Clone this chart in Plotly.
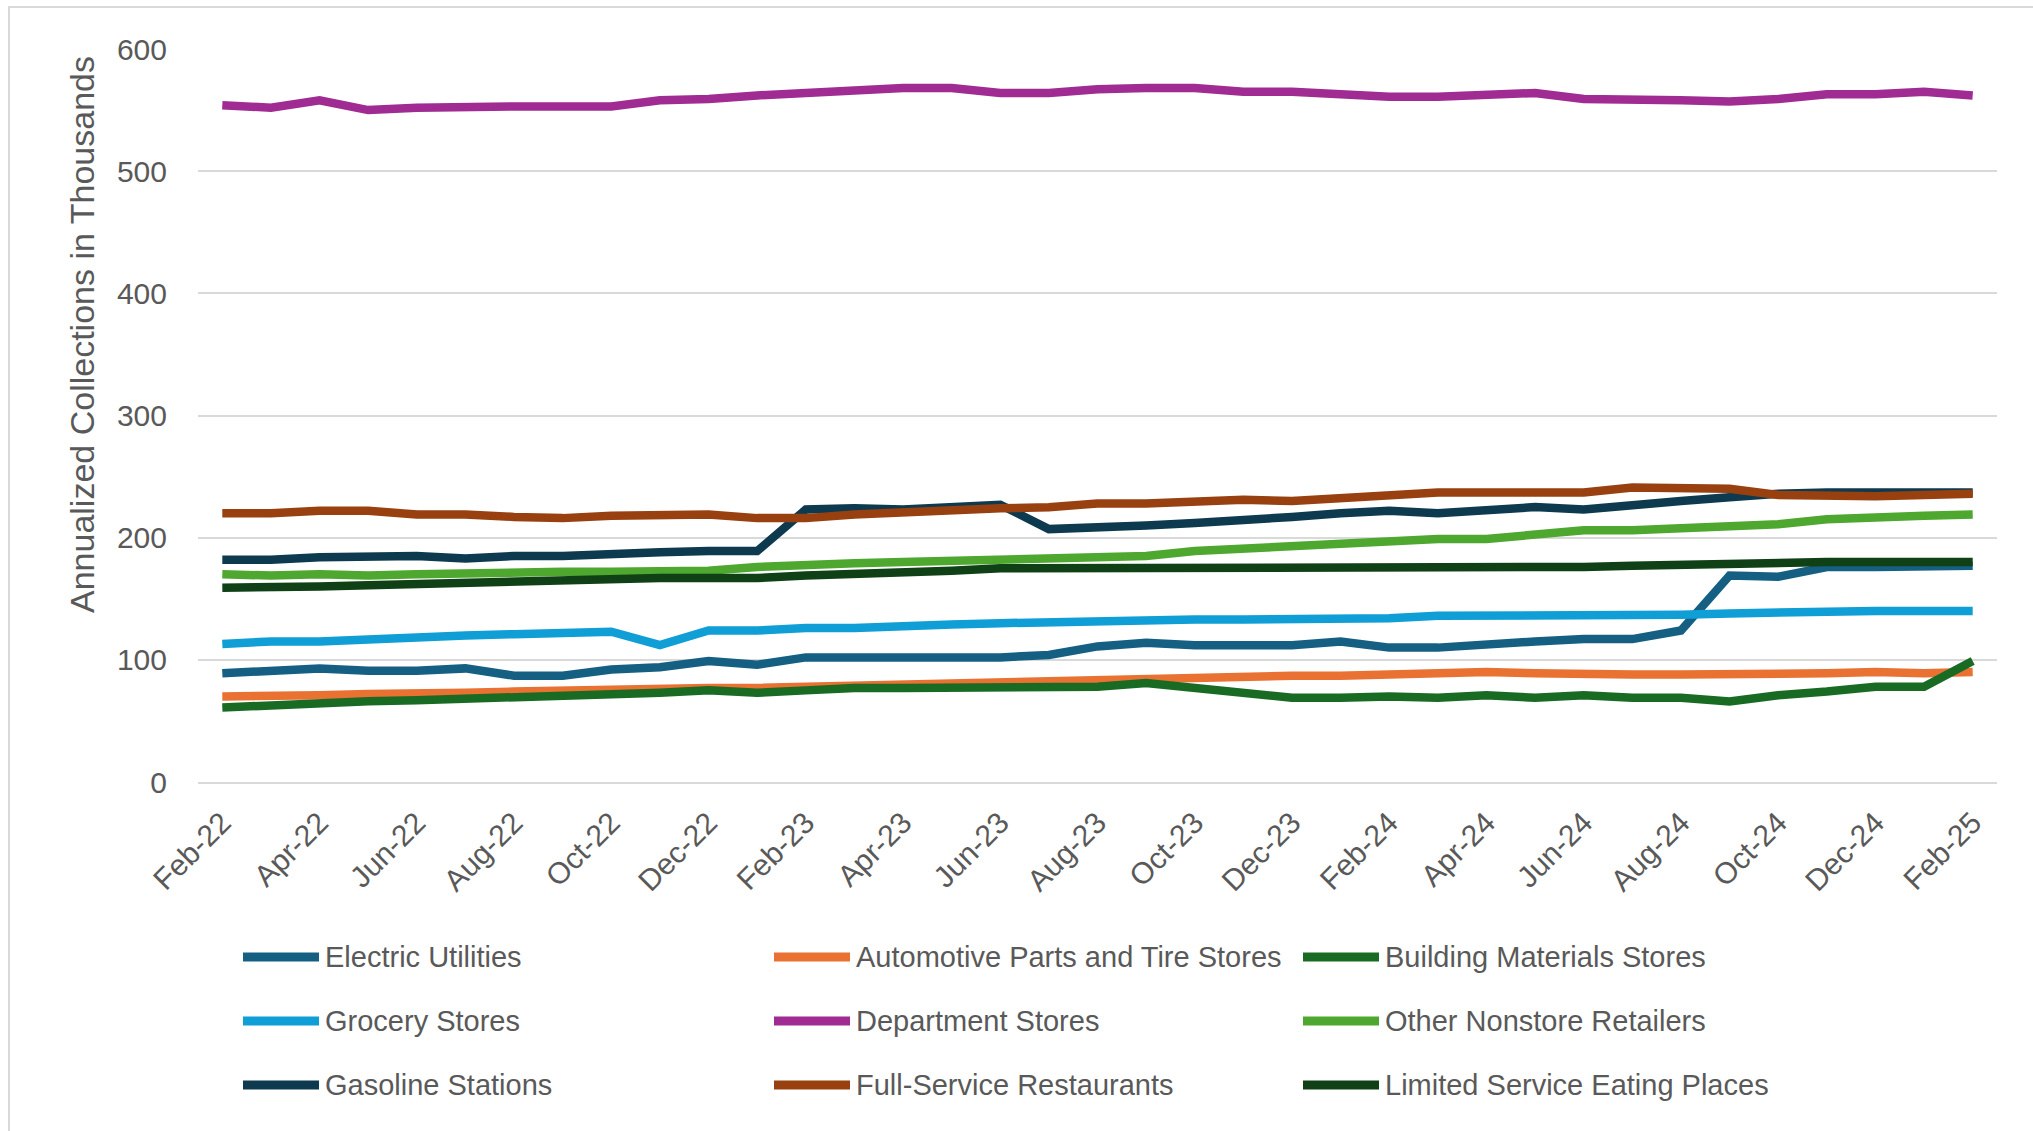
import plotly.graph_objects as go

# Monthly categories (Feb-22 .. Feb-25)
months = [
    "Feb-22", "Mar-22", "Apr-22", "May-22", "Jun-22", "Jul-22", "Aug-22", "Sep-22",
    "Oct-22", "Nov-22", "Dec-22", "Jan-23", "Feb-23", "Mar-23", "Apr-23", "May-23",
    "Jun-23", "Jul-23", "Aug-23", "Sep-23", "Oct-23", "Nov-23", "Dec-23", "Jan-24",
    "Feb-24", "Mar-24", "Apr-24", "May-24", "Jun-24", "Jul-24", "Aug-24", "Sep-24",
    "Oct-24", "Nov-24", "Dec-24", "Jan-25", "Feb-25",
]

series_names = [
    "Electric Utilities", "Automotive Parts and Tire Stores", "Building Materials Stores",
    "Grocery Stores", "Department Stores", "Other Nonstore Retailers",
    "Gasoline Stations", "Full-Service Restaurants", "Limited Service Eating Places",
]

# Annualized collections, thousands
electric_utilities = [89, 91, 93, 91, 91, 93, 87, 87, 92, 94, 99, 96, 102, 102, 102, 102, 102, 104,
                      111, 114, 112, 112, 112, 115, 110, 110, 113, 115, 117, 117, 124, 169, 168, 176,
                      176, 177, 177]
automotive_parts = [70, 70, 71, 72, 72, 73, 74, 75, 76, 77, 77, 77, 78, 79, 80, 81, 82, 83,
                    84, 85, 85, 86, 87, 87, 88, 89, 90, 89, 88, 88, 88, 88, 89, 89,
                    90, 89, 90]
building_materials = [61, 63, 65, 66, 67, 68, 70, 70, 72, 73, 75, 73, 75, 77, 77, 77, 77, 78,
                      78, 81, 77, 73, 69, 69, 70, 69, 71, 69, 71, 69, 69, 66, 71, 74,
                      78, 78, 99]
grocery_stores = [113, 115, 115, 117, 118, 120, 121, 122, 123, 112, 124, 124, 126, 126, 128, 129, 130, 131,
                  132, 132, 133, 133, 133, 134, 134, 136, 136, 136, 137, 137, 137, 138, 139, 140,
                  140, 140, 140]
department_stores = [554, 552, 558, 550, 552, 553, 553, 553, 553, 558, 559, 562, 564, 566, 568, 568, 564, 564,
                     567, 568, 568, 565, 565, 563, 561, 561, 562, 564, 559, 559, 558, 557, 559, 563,
                     563, 565, 562]
other_nonstore = [170, 169, 170, 169, 170, 171, 171, 172, 172, 173, 173, 176, 178, 179, 180, 181, 182, 182,
                  183, 185, 189, 191, 193, 195, 197, 199, 199, 202, 206, 206, 208, 209, 211, 215,
                  217, 218, 219]
gasoline_stations = [182, 182, 184, 185, 185, 183, 185, 185, 187, 188, 189, 189, 223, 224, 223, 225, 227, 207,
                     208, 210, 212, 214, 217, 220, 222, 220, 223, 225, 223, 227, 230, 233, 236, 237,
                     237, 237, 237]
full_service_restaurants = [220, 220, 222, 222, 219, 219, 217, 216, 218, 218, 219, 216, 216, 219, 221, 222, 224, 225,
                            228, 228, 230, 231, 230, 232, 234, 237, 237, 237, 237, 241, 241, 240, 235, 234,
                            234, 235, 236]
limited_service_eating = [159, 159, 160, 161, 162, 163, 165, 166, 167, 167, 167, 167, 169, 170, 171, 173, 175, 175,
                          176, 176, 176, 176, 176, 176, 176, 176, 176, 176, 176, 177, 178, 179, 179, 180,
                          180, 180, 180]

series_values = [
    electric_utilities, automotive_parts, building_materials,
    grocery_stores, department_stores, other_nonstore,
    gasoline_stations, full_service_restaurants, limited_service_eating,
]

series_colors = [
    "#156082", "#E97132", "#196B24",
    "#0F9ED5", "#A02B93", "#4EA72E",
    "#0D3A4E", "#994011", "#0F4016",
]

y_ticks = [0, 100, 200, 300, 400, 500, 600]

# Page geometry (pixels)
W, H = 2033, 1131
PLOT_L, PLOT_R, PLOT_T, PLOT_B = 198, 1997, 49, 782
GRAY_TEXT = "#595959"
GRID = "#D9D9D9"
FONT = "Liberation Sans"


def px_x(px):
    return (px - PLOT_L) / (PLOT_R - PLOT_L)


def px_y(py):
    return (PLOT_B - py) / (PLOT_B - PLOT_T)


x_idx = list(range(len(months)))

fig = go.Figure()
for name, vals, color in zip(series_names, series_values, series_colors):
    fig.add_trace(go.Scatter(
        x=x_idx, y=vals, name=name, mode="lines",
        line=dict(color=color, width=8.5),
        showlegend=False,
        customdata=months,
        hovertemplate="%{customdata}: %{y}<extra>" + name + "</extra>",
    ))

# Labels on every second month, tick marks on the category boundaries
label_pos = x_idx[::2]
label_txt = months[::2]
boundary_ticks = [i - 0.5 for i in x_idx[::2]]

shapes = []
annotations = []

# Outer chart frame
shapes.append(dict(type="rect", xref="paper", yref="paper",
                   x0=px_x(9), x1=px_x(2120), y0=px_y(1200), y1=px_y(7),
                   line=dict(color=GRID, width=2), fillcolor="rgba(0,0,0,0)", layer="below"))

# Y-axis title
annotations.append(dict(
    text="Annualized Collections in Thousands", textangle=-90,
    xref="paper", yref="paper", x=px_x(82), y=px_y(335),
    xanchor="center", yanchor="middle", showarrow=False,
    font=dict(family=FONT, size=34, color=GRAY_TEXT),
))

# Legend: 3 x 3 grid
col_x = [240, 771, 1300]
row_y = [957, 1021, 1085]
for k, (name, color) in enumerate(zip(series_names, series_colors)):
    cx = col_x[k % 3]
    ry = row_y[k // 3]
    shapes.append(dict(type="line", xref="paper", yref="paper",
                       x0=px_x(cx + 3), x1=px_x(cx + 79), y0=px_y(ry), y1=px_y(ry),
                       line=dict(color=color, width=9)))
    annotations.append(dict(
        text=name, xref="paper", yref="paper", x=px_x(cx + 83), y=px_y(ry),
        xanchor="left", yanchor="middle", showarrow=False,
        font=dict(family=FONT, size=29, color=GRAY_TEXT),
    ))

fig.update_layout(
    width=W, height=H, autosize=False,
    margin=dict(l=PLOT_L, r=W - PLOT_R, t=PLOT_T, b=H - PLOT_B, pad=0, autoexpand=False),
    paper_bgcolor="white", plot_bgcolor="white",
    showlegend=False,
    font=dict(family=FONT, color=GRAY_TEXT),
    xaxis=dict(
        range=[-0.5, len(months) - 0.5],
        tickmode="array", tickvals=label_pos, ticktext=label_txt,
        tickangle=-45, ticks="", showgrid=False, zeroline=False,
        showline=True, linecolor=GRID, linewidth=2,
        tickfont=dict(family=FONT, size=30, color=GRAY_TEXT),
        ticklabelstandoff=9,
    ),
    xaxis2=dict(
        overlaying="x", anchor="y", side="bottom",
        range=[-0.5, len(months) - 0.5],
        tickmode="array", tickvals=boundary_ticks,
        ticks="outside", ticklen=9, tickwidth=2, tickcolor=GRID,
        showticklabels=False, showgrid=False, zeroline=False, showline=False,
    ),
    yaxis=dict(
        range=[0, 600], tickmode="array", tickvals=y_ticks,
        showgrid=True, gridcolor=GRID, gridwidth=2,
        zeroline=False, showline=False, ticks="",
        tickfont=dict(family=FONT, size=30, color=GRAY_TEXT),
        ticklabelstandoff=30,
    ),
    shapes=shapes,
    annotations=annotations,
)

fig.write_html("out.html")
